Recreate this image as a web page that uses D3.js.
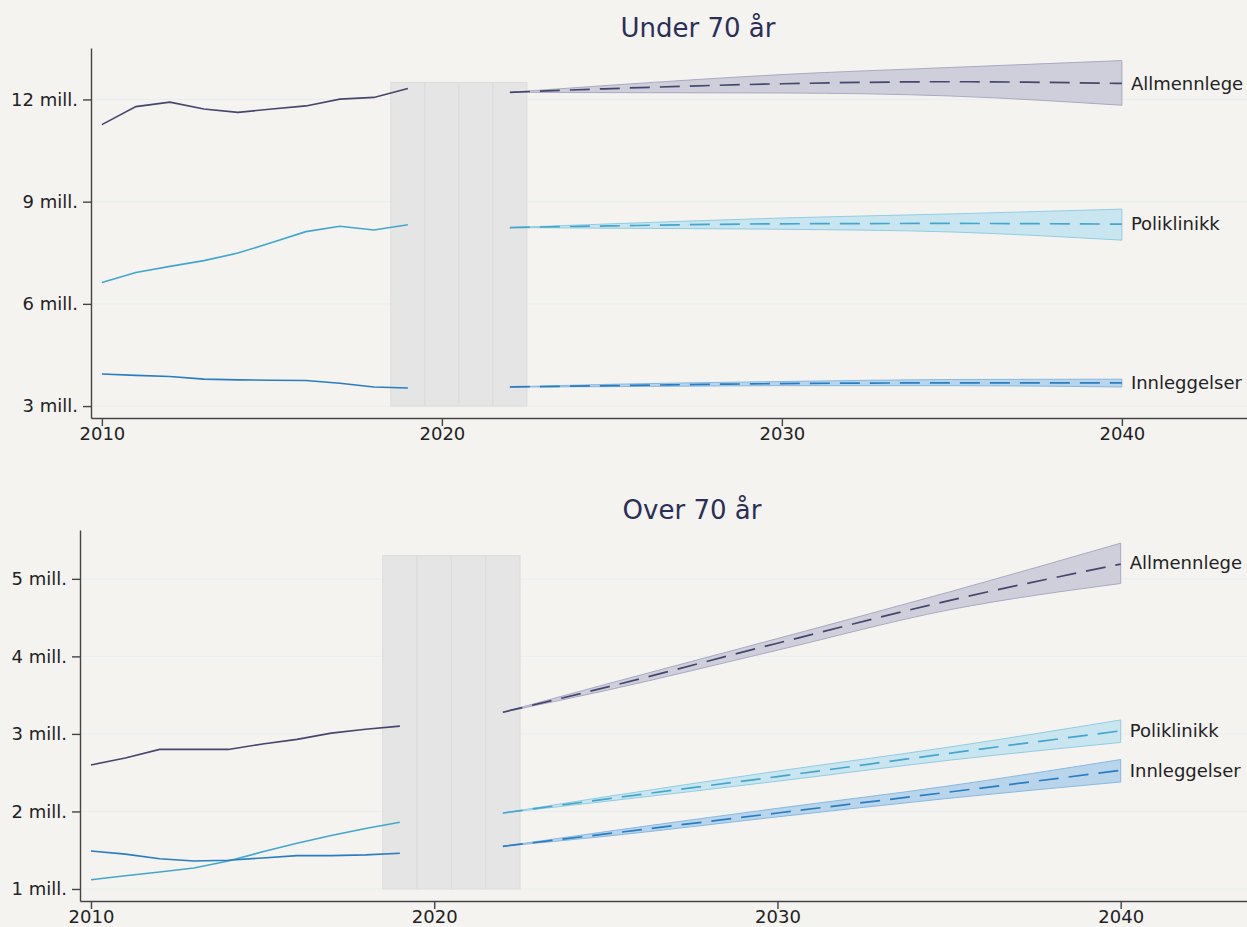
<!DOCTYPE html>
<html>
<head>
<meta charset="utf-8">
<script src="https://cdn.jsdelivr.net/npm/d3@7"></script>
<style>
  body { margin: 0; background: #f4f3f0; }
  svg { display: block; font-family: "DejaVu Sans", Verdana, sans-serif; }
  .tick text { fill: #222; }
</style>
</head>
<body>
<div id="graph"></div>
<script>
// values in millions
const seriesNames = ["Allmennlege", "Poliklinikk", "Innleggelser"];
const histYears = [2010, 2011, 2012, 2013, 2014, 2015, 2016, 2017, 2018, 2019];
const projYears = [2022, 2025, 2030, 2035, 2040];
const gapYears = [2019, 2020, 2021, 2022];
const xTicks = [2010, 2020, 2030, 2040];

const under70Ticks = [3, 6, 9, 12];
const under70Hist = {
  Allmennlege:  [11.26, 11.79, 11.92, 11.72, 11.62, 11.72, 11.81, 12.01, 12.06, 12.32],
  Poliklinikk:  [6.63, 6.92, 7.10, 7.27, 7.49, 7.80, 8.12, 8.28, 8.17, 8.32],
  Innleggelser: [3.94, 3.90, 3.87, 3.79, 3.77, 3.76, 3.75, 3.67, 3.56, 3.53]
};
const under70Mid = {
  Allmennlege:  [12.21, 12.32, 12.46, 12.52, 12.47],
  Poliklinikk:  [8.24, 8.29, 8.35, 8.36, 8.34],
  Innleggelser: [3.56, 3.60, 3.66, 3.68, 3.68]
};
const under70Low = {
  Allmennlege:  [12.21, 12.20, 12.19, 12.10, 11.83],
  Poliklinikk:  [8.24, 8.22, 8.19, 8.11, 7.87],
  Innleggelser: [3.56, 3.57, 3.60, 3.60, 3.56]
};
const under70High = {
  Allmennlege:  [12.21, 12.42, 12.73, 12.94, 13.14],
  Poliklinikk:  [8.24, 8.35, 8.52, 8.64, 8.78],
  Innleggelser: [3.56, 3.64, 3.72, 3.78, 3.79]
};

const over70Ticks = [1, 2, 3, 4, 5];
const over70Hist = {
  Allmennlege:  [2.60, 2.69, 2.80, 2.80, 2.80, 2.87, 2.93, 3.01, 3.06, 3.10],
  Poliklinikk:  [1.12, 1.17, 1.22, 1.27, 1.36, 1.48, 1.59, 1.69, 1.78, 1.86],
  Innleggelser: [1.49, 1.45, 1.39, 1.36, 1.37, 1.40, 1.43, 1.43, 1.44, 1.46]
};
const over70Mid = {
  Allmennlege:  [3.28, 3.60, 4.17, 4.72, 5.19],
  Poliklinikk:  [1.98, 2.16, 2.45, 2.75, 3.04],
  Innleggelser: [1.55, 1.71, 1.98, 2.25, 2.53]
};
const over70Low = {
  Allmennlege:  [3.28, 3.56, 4.08, 4.60, 4.94],
  Poliklinikk:  [1.98, 2.13, 2.39, 2.66, 2.89],
  Innleggelser: [1.55, 1.68, 1.93, 2.17, 2.38]
};
const over70High = {
  Allmennlege:  [3.28, 3.64, 4.23, 4.83, 5.46],
  Poliklinikk:  [1.98, 2.19, 2.52, 2.83, 3.18],
  Innleggelser: [1.55, 1.74, 2.04, 2.33, 2.67]
};

const lineColor = { Allmennlege: "#46466c", Poliklinikk: "#43a7cc", Innleggelser: "#2a7dc0" };
const bandFill = { Allmennlege: "#cfcfdc", Poliklinikk: "#c9e6f0", Innleggelser: "#b8d5eb" };
const bandStroke = { Allmennlege: "#a9a9c2", Poliklinikk: "#90cde2", Innleggelser: "#88b9e0" };

const w = 1247, h = 927;

const svg = d3.select("#graph")
              .append("svg")
              .attr("width", w)
              .attr("height", h);

svg.append("rect").attr("width", w).attr("height", h).attr("fill", "#f4f3f0");

function panel(opts) {
  const x = d3.scaleLinear().domain([2009.68, 2043.68]).range([opts.left, w]);
  const y = d3.scaleLinear().domain(opts.yDomain).range([opts.bottom, opts.top]);
  const g = svg.append("g");

  // title
  g.append("text")
   .attr("x", opts.titleX)
   .attr("y", opts.titleY)
   .attr("text-anchor", "middle")
   .style("font-size", "26px")
   .style("fill", "#2b2f58")
   .text(opts.title);

  // grid lines
  g.selectAll(".grid")
   .data(opts.ticks)
   .enter()
   .append("line")
   .attr("x1", opts.left)
   .attr("x2", w)
   .attr("y1", d => y(d))
   .attr("y2", d => y(d))
   .attr("stroke", "#e6eef0")
   .attr("stroke-width", 1);

  // grey box over the missing years
  g.selectAll(".gap")
   .data(gapYears)
   .enter()
   .append("rect")
   .attr("x", d => x(d - 0.5))
   .attr("width", d => x(d + 0.5) - x(d - 0.5))
   .attr("y", y(opts.gapRange[1]))
   .attr("height", y(opts.gapRange[0]) - y(opts.gapRange[1]))
   .attr("fill", "#e5e5e5")
   .attr("stroke", "#dcdcdc")
   .attr("stroke-width", 1);

  const line = d3.line().x(d => x(d[0])).y(d => y(d[1]));
  const curve = d3.line().x(d => x(d[0])).y(d => y(d[1])).curve(d3.curveMonotoneX);
  const area = d3.area()
                 .x(d => x(d[0]))
                 .y0(d => y(d[1]))
                 .y1(d => y(d[2]))
                 .curve(d3.curveMonotoneX);

  seriesNames.forEach(name => {
    const band = projYears.map((yr, i) => [yr, opts.low[name][i], opts.high[name][i]]);
    g.append("path")
     .attr("d", area(band))
     .attr("fill", bandFill[name])
     .attr("stroke", bandStroke[name])
     .attr("stroke-width", 1);
  });

  seriesNames.forEach(name => {
    g.append("path")
     .attr("d", line(histYears.map((yr, i) => [yr, opts.hist[name][i]])))
     .attr("fill", "none")
     .attr("stroke", lineColor[name])
     .attr("stroke-width", 1.6);

    g.append("path")
     .attr("d", curve(projYears.map((yr, i) => [yr, opts.mid[name][i]])))
     .attr("fill", "none")
     .attr("stroke", lineColor[name])
     .attr("stroke-width", 1.7)
     .attr("stroke-dasharray", "20,10");

    const last = opts.mid[name][projYears.length - 1];
    g.append("text")
     .attr("x", x(2040) + 9)
     .attr("y", y(last) + (opts.labelShift[name] || 0))
     .attr("dy", "0.35em")
     .style("font-size", "18px")
     .style("fill", "#222")
     .text(name);
  });

  const xAxis = d3.axisBottom(x)
                  .tickValues(xTicks)
                  .tickFormat(d => d)
                  .tickSize(8)
                  .tickPadding(1)
                  .tickSizeOuter(0);

  const yAxis = d3.axisLeft(y)
                  .tickValues(opts.ticks)
                  .tickFormat(d => d + " mill.")
                  .tickSize(8)
                  .tickPadding(5)
                  .tickSizeOuter(0);

  const xa = g.append("g")
              .attr("transform", `translate(0, ${opts.bottom})`)
              .call(xAxis);
  const ya = g.append("g")
              .attr("transform", `translate(${opts.left}, 0)`)
              .call(yAxis);

  [xa, ya].forEach(a => {
    a.selectAll("path, line").attr("stroke", "#444").attr("stroke-width", 1.4);
    a.selectAll("text").style("font-size", "18px").style("font-family", "DejaVu Sans, sans-serif");
  });
}

panel({
  title: "Under 70 år", titleX: 698, titleY: 37,
  left: 91, top: 48, bottom: 418,
  yDomain: [2.65, 13.51], ticks: under70Ticks, gapRange: [3, 12.5],
  hist: under70Hist, mid: under70Mid, low: under70Low, high: under70High,
  labelShift: {}
});

panel({
  title: "Over 70 år", titleX: 692, titleY: 519,
  left: 80, top: 530, bottom: 901,
  yDomain: [0.845, 5.63], ticks: over70Ticks, gapRange: [1, 5.3],
  hist: over70Hist, mid: over70Mid, low: over70Low, high: over70High,
  labelShift: { Allmennlege: -1 }
});
</script>
</body>
</html>
